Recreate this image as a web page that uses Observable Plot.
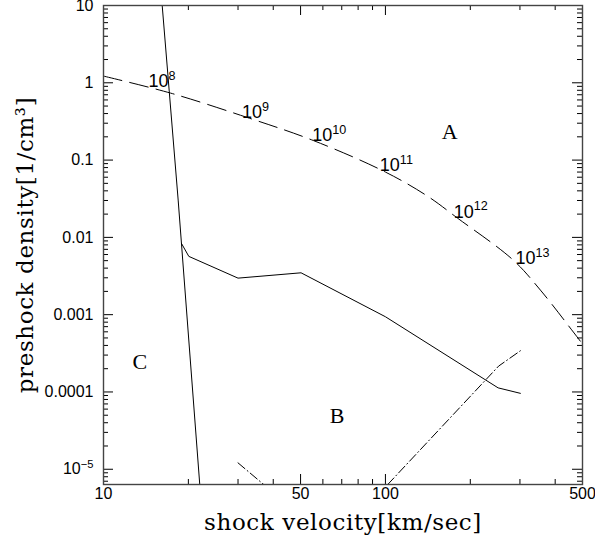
<!DOCTYPE html>
<html><head><meta charset="utf-8">
<script src="https://cdn.jsdelivr.net/npm/d3@7"></script>
<script src="https://cdn.jsdelivr.net/npm/@observablehq/plot@0.6"></script>
<style>body{margin:0;background:#fff}</style>
</head><body><div id="chart"></div>
<script>
// ---- data ----
const xDomain = [10, 500];
const yDomain = [6.35e-6, 10];

// dashed curve (column density labels)
const dashedV = [10, 17.29, 32.4, 55.6, 100, 140.9, 180, 284, 354.5, 464, 500];
const dashedN = [1.221, 0.736, 0.355, 0.1787, 0.070, 0.0342, 0.0178, 0.00508, 0.00208, 0.000596, 0.000417];

// steep solid line
const steepV = [16.15, 18.4, 21.95];
const steepN = [10, 0.0304, 6.35e-6];

// second solid line
const solidV = [18.9, 20.07, 30.0, 50.2, 100, 251, 301];
const solidN = [0.00836, 0.00568, 0.00297, 0.00348, 0.00094, 0.000113, 0.000096];

// dash-dot lines
const dd1V = [30.0, 37.0];
const dd1N = [1.21e-5, 6.35e-6];
const dd2V = [101.9, 252, 301];
const dd2N = [6.35e-6, 0.000216, 0.000341];

// curve labels
const labText = ["10^{8}", "10^{9}", "10^{10}", "10^{11}", "10^{12}", "10^{13}"];
const labV = [14.44, 31.0, 55.0, 95.5, 174.6, 289];
const labN = [1.036, 0.418, 0.21, 0.0861, 0.0214, 0.00535];

// region labels
const regText = ["A", "B", "C"];
const regV = [169, 67.4, 13.45];
const regN = [0.232, 4.88e-5, 0.000246];

// ticks
const yMajor = [10, 1, 0.1, 0.01, 0.001, 0.0001, 0.00001];
const yTickLabels = ["10", "1", "0.1", "0.01", "0.001", "0.0001", "10^{\u22125}"];
const xMajor = [10, 50, 100, 500];
const xTickLabels = ["10", "50", "100", "500"];
const xMinor = [20, 30, 40, 60, 70, 80, 90, 200, 300, 400];
const yDecades = [1e-6, 1e-5, 1e-4, 1e-3, 1e-2, 1e-1, 1];
const yMinor = yDecades.flatMap(d => [2,3,4,5,6,7,8,9].map(k => k * d))
  .filter(v => v > yDomain[0] && v < yDomain[1]);

const xTitle = "shock velocity[km/sec]";
const yTitle = "preshock density[1/cm\u00b3]";

// ---- layout ----
const W = 595, H = 548, mL = 103, mR = 13, mT = 5, mB = 64;
const fw = W - mL - mR, fh = H - mT - mB;
const majLen = 10, minLen = 5;
const ink = "#000";

const toRows = (xs, ys) => xs.map((x, i) => ({x, y: ys[i]}));

const chart = Plot.plot({
  width: W, height: H,
  marginLeft: mL, marginRight: mR, marginTop: mT, marginBottom: mB,
  x: {type: "log", domain: xDomain, axis: null},
  y: {type: "log", domain: yDomain, axis: null},
  style: {fontFamily: "Liberation Sans", fontSize: "16px", color: "#000", background: "#fff"},
  marks: [
    // inward ticks on all four sides
    Plot.tickY(yMajor, {y: d => d, insetRight: fw - majLen, stroke: ink}),
    Plot.tickY(yMinor, {y: d => d, insetRight: fw - minLen, stroke: ink}),
    Plot.tickY(yMajor, {y: d => d, insetLeft: fw - majLen, stroke: ink}),
    Plot.tickY(yMinor, {y: d => d, insetLeft: fw - minLen, stroke: ink}),
    Plot.tickX(xMajor, {x: d => d, insetTop: fh - majLen, stroke: ink}),
    Plot.tickX(xMinor, {x: d => d, insetTop: fh - minLen, stroke: ink}),
    Plot.tickX(xMajor, {x: d => d, insetBottom: fh - majLen, stroke: ink}),
    Plot.tickX(xMinor, {x: d => d, insetBottom: fh - minLen, stroke: ink}),
    // tick labels
    Plot.text(yMajor, {y: d => d, frameAnchor: "left", dx: -10, textAnchor: "end", text: (d, i) => yTickLabels[i], fontSize: 16, fill: ink}),
    Plot.text(xMajor, {x: d => d, frameAnchor: "bottom", dy: 14, text: (d, i) => xTickLabels[i], fontSize: 16, fill: ink}),
    // curves
    Plot.line(toRows(dashedV, dashedN), {x: "x", y: "y", stroke: ink, strokeWidth: 1, strokeDasharray: "19,8", curve: "catmull-rom", clip: true}),
    Plot.line(toRows(steepV, steepN), {x: "x", y: "y", stroke: ink, strokeWidth: 1, clip: true}),
    Plot.line(toRows(solidV, solidN), {x: "x", y: "y", stroke: ink, strokeWidth: 1, clip: true}),
    Plot.line(toRows(dd1V, dd1N), {x: "x", y: "y", stroke: ink, strokeWidth: 1, strokeDasharray: "9,3,1,3", clip: true}),
    Plot.line(toRows(dd2V, dd2N), {x: "x", y: "y", stroke: ink, strokeWidth: 1, strokeDasharray: "9,3,1,3", clip: true}),
    // labels
    Plot.text(labText, {x: (d, i) => labV[i], y: (d, i) => labN[i], text: d => d, textAnchor: "start", fontSize: 18, fontFamily: "Liberation Sans", fill: ink}),
    Plot.text(regText, {x: (d, i) => regV[i], y: (d, i) => regN[i], text: d => d, fontSize: 22, fontFamily: "Liberation Serif", fill: ink}),
    Plot.text([xTitle], {frameAnchor: "bottom", dy: 38, textAnchor: "middle", lineAnchor: "middle", text: d => d, fontSize: 23, fontFamily: "DejaVu Serif", fill: ink}),
    Plot.text([yTitle], {frameAnchor: "left", dx: -78, rotate: -90, textAnchor: "middle", lineAnchor: "middle", text: d => d, fontSize: 23, fontFamily: "DejaVu Serif", fill: ink}),
    Plot.frame({stroke: "#444", strokeWidth: 1.4})
  ]
});

// letter spacing for the axis titles
d3.select(chart).selectAll("text").each(function() {
  const s = this.textContent;
  if (s === xTitle || s === yTitle) this.setAttribute("letter-spacing", "0.6px");
});

// superscripts: "base^{sup}rest"
d3.select(chart).selectAll("text").each(function() {
  const s = this.textContent;
  if (!s.includes("^{")) return;
  const parts = s.split(/\^\{([^}]*)\}/);
  const el = d3.select(this);
  el.text(null);
  const ratio = 0.7, raise = 0.4;
  let prevSup = false;
  parts.forEach((p, i) => {
    const isSup = i % 2 === 1;
    if (p === "" && !isSup) { return; }
    const t = el.append("tspan").text(p);
    if (isSup) {
      t.attr("font-size", ratio + "em").attr("dy", (-raise / ratio).toFixed(3) + "em");
      prevSup = true;
    } else if (prevSup) {
      t.attr("dy", raise + "em");
      prevSup = false;
    }
  });
});

document.getElementById("chart").appendChild(chart);
</script>
</body></html>
